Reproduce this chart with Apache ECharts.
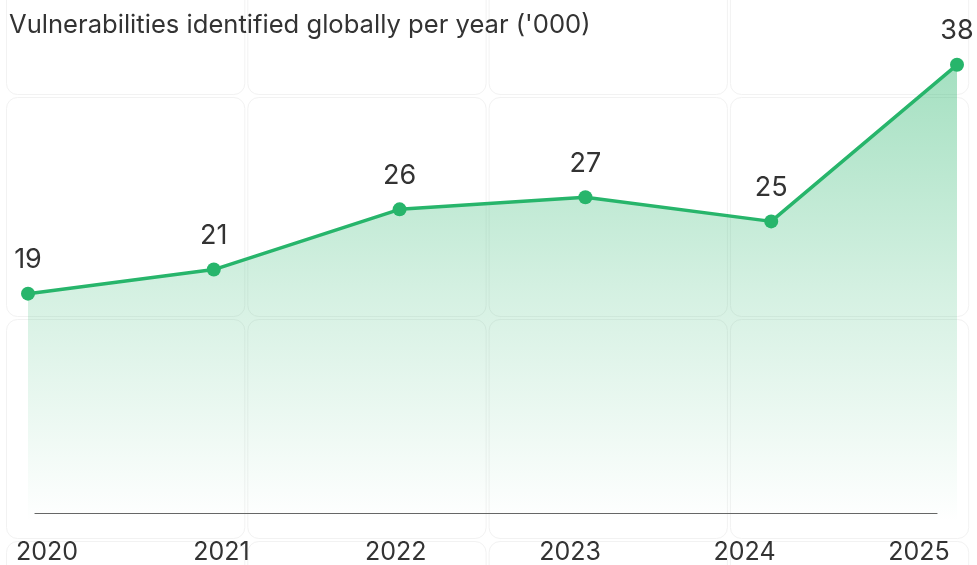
<!DOCTYPE html>
<html>
<head>
<meta charset="utf-8">
<script src="https://cdn.jsdelivr.net/npm/echarts@6/dist/echarts.min.js"></script>
<style>
  html, body { margin: 0; padding: 0; background: #ffffff; }
  #chart { width: 977px; height: 565px; }
</style>
</head>
<body>
<div id="chart"></div>
<script>
// Vulnerabilities identified globally, thousands per year
const years = ['2020', '2021', '2022', '2023', '2024', '2025'];
const vulnerabilities = [19, 21, 26, 27, 25, 38];
const chartTitle = "Vulnerabilities identified globally per year ('000)";

const FONT = 'Inter, "Noto Sans", sans-serif';
const TEXT = '#333333';
const GREEN = '#27b56b';

// Soft rounded tiles behind the chart
const tiles = [];
const colX = [5, 246.3, 487.6, 728.9];
const rowY = [-126, 96, 318, 540];
colX.forEach(function (x) {
  rowY.forEach(function (y) {
    tiles.push({
      type: 'rect',
      z: -10,
      silent: true,
      shape: { x: x + 1.5, y: y + 1.5, width: 238.3, height: 219, r: 11 },
      style: { fill: '#ffffff', stroke: '#f2f2f2', lineWidth: 1 }
    });
  });
});

const chart = echarts.init(document.getElementById('chart'), null, { renderer: 'canvas' });

chart.setOption({
  backgroundColor: '#ffffff',
  animation: false,
  graphic: tiles,
  title: {
    text: chartTitle,
    left: 4,
    top: 7,
    textStyle: { fontFamily: FONT, fontSize: 25.6, fontWeight: 400, color: TEXT }
  },
  grid: [
    { left: 28, right: 20, top: 40.7, bottom: 42.5 },
    { left: 35, right: 40, top: 40, bottom: 52 },
    { left: 47, right: 58, top: 40, bottom: 52 }
  ],
  xAxis: [
    { gridIndex: 0, type: 'category', data: years, boundaryGap: false, show: false },
    {
      gridIndex: 1, type: 'category', data: years, boundaryGap: false,
      axisLine: { show: true, lineStyle: { color: '#666666', width: 1.2 } },
      axisTick: { show: false }, axisLabel: { show: false }, splitLine: { show: false }
    },
    {
      gridIndex: 2, type: 'category', data: years, boundaryGap: false,
      axisLine: { show: false }, axisTick: { show: false }, splitLine: { show: false },
      axisLabel: { show: true, margin: 29, fontFamily: FONT, fontSize: 25, color: TEXT }
    }
  ],
  yAxis: [
    { gridIndex: 0, type: 'value', min: 0, max: 40, show: false },
    { gridIndex: 1, type: 'value', show: false },
    { gridIndex: 2, type: 'value', show: false }
  ],
  series: [
    {
      type: 'line',
      xAxisIndex: 0,
      yAxisIndex: 0,
      data: vulnerabilities,
      symbol: 'circle',
      symbolSize: 14,
      showAllSymbol: true,
      lineStyle: { color: GREEN, width: 3.5 },
      itemStyle: { color: GREEN },
      areaStyle: {
        color: {
          type: 'linear', x: 0, y: 0, x2: 0, y2: 1,
          colorStops: [
            { offset: 0, color: 'rgba(39,181,107,0.6)' },
            { offset: 0.5, color: 'rgba(39,181,107,0.28)' },
            { offset: 1, color: 'rgba(39,181,107,0)' }
          ]
        }
      },
      label: {
        show: true,
        position: 'top',
        distance: 13,
        fontFamily: FONT,
        fontSize: 27,
        color: TEXT
      }
    }
  ]
});
</script>
</body>
</html>
